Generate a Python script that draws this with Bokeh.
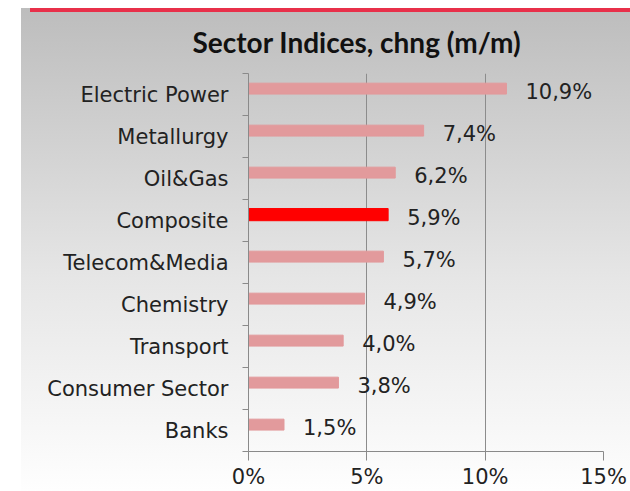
from bokeh.plotting import figure
from bokeh.models import Range1d, FixedTicker, Title, ColumnDataSource
from bokeh.core.properties import value
from bokeh.embed import file_html
from bokeh.resources import INLINE

# ---- data (top to bottom) ----
sectors = ["Electric Power", "Metallurgy", "Oil&Gas", "Composite", "Telecom&Media",
           "Chemistry", "Transport", "Consumer Sector", "Banks"]
changes = [10.9, 7.4, 6.2, 5.9, 5.7, 4.9, 4.0, 3.8, 1.5]
highlight = "Composite"
x_ticks = [0, 5, 10, 15]
x_tick_labels = ["0%", "5%", "10%", "15%"]
title_text = "Sector Indices, chng (m/m)"

n = len(sectors)
centers = [n - 0.5 - i for i in range(n)]
bar_y = [c + 0.14 for c in centers]
lbl_y = [c + 0.05 for c in centers]
colors = ["#ff0000" if s == highlight else "#e29a9c" for s in sectors]
heights = [0.29 if s == highlight else 0.26 for s in sectors]
labels = [("%.1f%%" % v).replace(".", ",") for v in changes]

src = ColumnDataSource(dict(sector=sectors, val=changes, by=bar_y, ly=lbl_y,
                            color=colors, h=heights, lab=labels))

bg = ("linear-gradient(#e8304a, #e8304a) 30px 8px / 600px 4px no-repeat, "
      "linear-gradient(to bottom, #bdbdbd 0%, #e6e6e6 55%, #ffffff 100%) 21px 8px / 609px 100% no-repeat, "
      "#ffffff")

p = figure(width=630, height=491, output_backend="svg", toolbar_location=None,
           x_range=Range1d(0, 15), y_range=Range1d(0, n),
           min_border_left=248, min_border_right=27, min_border_top=73, min_border_bottom=38,
           styles={"background": bg})
p.border_fill_color = None
p.background_fill_color = None
p.outline_line_color = None

t = Title(text=title_text, align="left", offset=-56, text_font="Lato",
          text_font_style="bold", text_font_size="28px", text_color="#111111", standoff=29)
p.add_layout(t, "above")

p.hbar(y="by", right="val", left=0, height="h", color="color", source=src)
p.text(x="val", y="ly", text="lab", x_offset=19, text_baseline="middle",
       text_font=value("DejaVu Sans"), text_font_size="21px", text_color="#222222", source=src)

axis_col = "#8a8a8a"
# x axis
p.xaxis.ticker = FixedTicker(ticks=x_ticks)
p.xaxis.major_label_overrides = {t_: l for t_, l in zip(x_ticks, x_tick_labels)}
p.xaxis.axis_line_color = axis_col
p.xaxis.major_tick_line_color = axis_col
p.xaxis.major_tick_out = 9
p.xaxis.major_tick_in = 0
p.xaxis.minor_tick_line_color = None
p.xaxis.major_label_standoff = 4
p.xaxis.major_label_text_font = "DejaVu Sans"
p.xaxis.major_label_text_font_size = "21px"
p.xaxis.major_label_text_color = "#222222"

# y axis: labels at centers, ticks at boundaries
p.yaxis.ticker = FixedTicker(ticks=centers, minor_ticks=list(range(n + 1)))
p.yaxis.major_label_overrides = {c: s for c, s in zip(centers, sectors)}
p.yaxis.axis_line_color = axis_col
p.yaxis.major_tick_line_color = None
p.yaxis.major_tick_out = 0
p.yaxis.major_tick_in = 0
p.yaxis.minor_tick_line_color = axis_col
p.yaxis.minor_tick_out = 6
p.yaxis.minor_tick_in = 0
p.yaxis.major_label_standoff = 14
p.yaxis.major_label_text_font = "DejaVu Sans"
p.yaxis.major_label_text_font_size = "21px"
p.yaxis.major_label_text_color = "#222222"

p.xgrid.grid_line_color = "#8c8c8c"
p.ygrid.grid_line_color = None

open("out.html", "w").write(file_html(p, INLINE))
